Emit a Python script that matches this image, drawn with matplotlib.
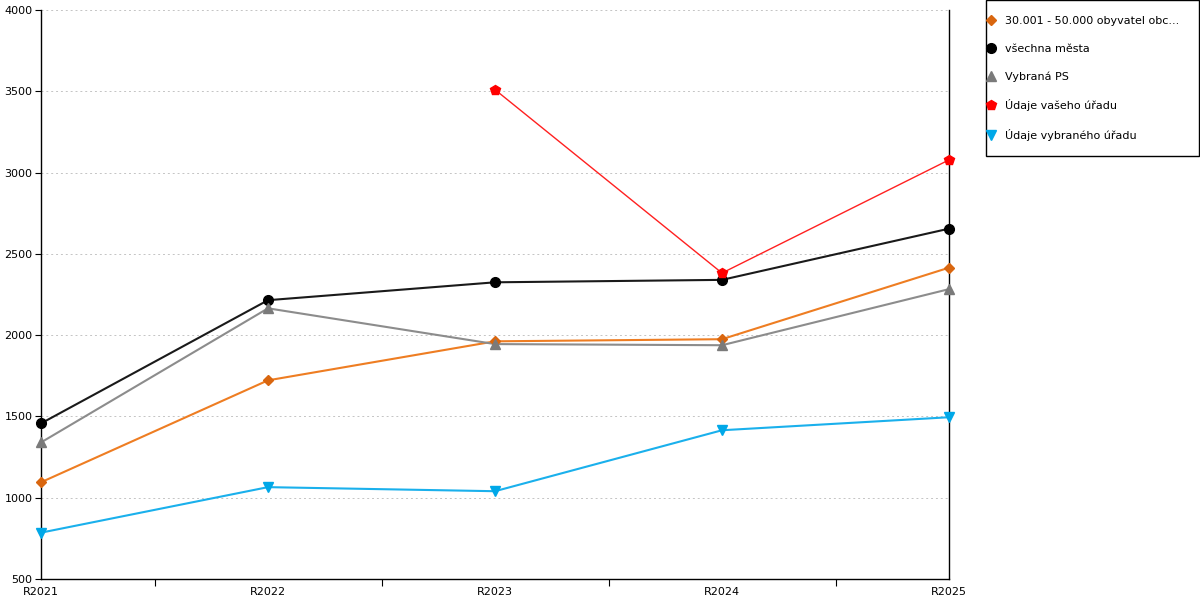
import matplotlib.pyplot as plt
from matplotlib.lines import Line2D
from matplotlib.patches import Rectangle

years = ['R2021', 'R2022', 'R2023', 'R2024', 'R2025']
obce_30_50 = [1095, 1722, 1962, 1975, 2415]
vsechna_mesta = [1457, 2215, 2325, 2340, 2655]
vybrana_ps = [1340, 2165, 1945, 1938, 2283]
vas_urad = [None, None, 3510, 2382, 3078]
vybrany_urad = [785, 1065, 1040, 1415, 1495]

series = [
    ('30.001 - 50.000 obyvatel obc...', obce_30_50, '#EE7D22', '#D9660F', 'D', 5, 1.5),
    ('všechna města', vsechna_mesta, '#1a1a1a', '#000000', 'o', 7, 1.5),
    ('Vybraná PS', vybrana_ps, '#8c8c8c', '#7a7a7a', '^', 7, 1.5),
    ('Údaje vašeho úřadu', vas_urad, '#FF2020', '#FF0000', 'p', 7, 1.0),
    ('Údaje vybraného úřadu', vybrany_urad, '#1AB0EC', '#00A8E8', 'v', 7, 1.5),
]

fig = plt.figure(figsize=(12, 6), dpi=100)
ax = fig.add_axes([41 / 1200, 21 / 600, 908 / 1200, 569 / 600])

x = list(range(len(years)))
handles = []
for label, vals, lc, mc, mk, ms, lw in series:
    pts = [(i, v) for i, v in zip(x, vals) if v is not None]
    xs = [p[0] for p in pts]
    ys = [p[1] for p in pts]
    ax.plot(xs, ys, color=lc, linewidth=lw, zorder=3)
    ax.plot(xs, ys, linestyle='none', marker=mk, markersize=ms,
            markerfacecolor=mc, markeredgecolor=mc, zorder=4, clip_on=False)
    handles.append(Line2D([], [], linestyle='none', marker=mk, markersize=ms,
                          markerfacecolor=mc, markeredgecolor=mc, label=label))

ax.set_xlim(0, 4)
ax.set_ylim(500, 4000)
ax.set_yticks(range(500, 4001, 500))
ax.set_xticks(x)
ax.set_xticklabels(years)
ax.set_xticks([0, 0.5, 1.5, 2.5, 3.5], minor=True)
ax.tick_params(axis='x', which='major', length=0, labelsize=8, pad=6)
ax.tick_params(axis='x', which='minor', length=5, width=0.8, direction='out')
ax.tick_params(axis='y', length=4, width=0.8, labelsize=8, pad=2)
ax.grid(axis='y', linestyle=(0, (2, 3)), color='#c4c4c4', linewidth=0.7)
ax.set_axisbelow(True)

ax.spines['top'].set_visible(False)
for s in ['left', 'bottom', 'right']:
    ax.spines[s].set_color('black')
    ax.spines[s].set_linewidth(1.0)

# legend box drawn separately so padding can differ per side
fig.patches.append(Rectangle((985.5 / 1200, 444.5 / 600), 213.5 / 1200, 155 / 600,
                             transform=fig.transFigure, facecolor='white',
                             edgecolor='black', linewidth=1.0))
leg = fig.legend(handles=handles, loc='upper left',
                 bbox_to_anchor=(986 / 1200, 1 - 16 / 600),
                 fontsize=8, frameon=False,
                 handlelength=0.9, handletextpad=0.8, labelspacing=1.58,
                 borderpad=0.0, borderaxespad=0.0)

fig.savefig('out.png', dpi=100)
